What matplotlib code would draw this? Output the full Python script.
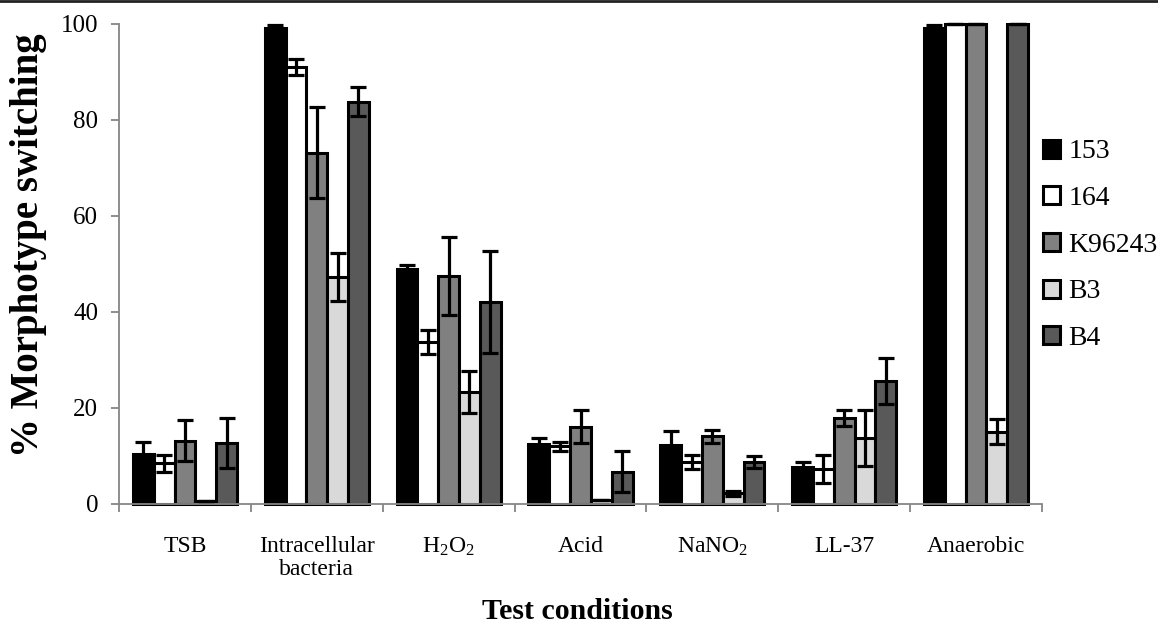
import matplotlib.pyplot as plt, numpy as np
from matplotlib.lines import Line2D

plt.rcParams['font.family'] = ['Liberation Serif', 'DejaVu Serif']
plt.rcParams['mathtext.fontset'] = 'custom'
plt.rcParams['mathtext.rm'] = 'Liberation Serif'
plt.rcParams['mathtext.it'] = 'Liberation Serif:italic'

categories = ['TSB', 'Intracellular\nbacteria', r'H$_\mathrm{2}$O$_\mathrm{2}$', 'Acid',
              r'NaNO$_\mathrm{2}$', 'LL-37', 'Anaerobic']
strains = ['153', '164', 'K96243', 'B3', 'B4']

v153 = [10.4, 99.2, 48.9, 12.5, 12.2, 7.8, 99.2]
e153 = [2.5, 0.6, 0.9, 1.3, 3.0, 1.0, 0.6]
v164 = [8.5, 91.0, 33.7, 12.0, 8.7, 7.3, 100]
e164 = [1.8, 1.7, 2.5, 0.9, 1.4, 3.0, 0]
vK96243 = [13.2, 73.2, 47.5, 16.1, 14.1, 17.9, 100]
eK96243 = [4.2, 9.5, 8.2, 3.5, 1.3, 1.7, 0]
vB3 = [0.7, 47.3, 23.3, 0.9, 2.2, 13.8, 15.0]
eB3 = [0, 5.0, 4.4, 0, 0.5, 5.8, 2.6]
vB4 = [12.7, 83.8, 42.1, 6.7, 8.7, 25.7, 100]
eB4 = [5.3, 3.0, 10.6, 4.3, 1.2, 4.8, 0]

values = [v153, v164, vK96243, vB3, vB4]
errors = [e153, e164, eK96243, eB3, eB4]
colors = ['#000000', '#ffffff', '#808080', '#d9d9d9', '#595959']

fig = plt.figure(figsize=(11.58, 6.31), dpi=100)
ax = fig.add_axes([0.1028, 0.2013, 0.7970, 0.7607])

x = np.arange(len(categories))
w = 0.158
for i, (vals, errs, c) in enumerate(zip(values, errors, colors)):
    pos = x + (i - 2) * w
    ax.bar(pos, vals, w, color=c, edgecolor='black', linewidth=2.2,
           label=strains[i], clip_on=False, zorder=2)
    ax.errorbar(pos, vals, yerr=errs, fmt='none', ecolor='black',
                elinewidth=2.3, capsize=6, capthick=2.3, clip_on=False, zorder=3)

ax.set_xlim(-0.5, len(categories) - 0.5)
ax.set_ylim(0, 100)
ax.set_yticks(range(0, 101, 20))
ax.set_xticks(x)
ax.set_xticklabels(categories, fontsize=17, linespacing=1.1)
ax.set_xticks(np.arange(-0.5, len(categories), 1), minor=True)
ax.tick_params(axis='x', which='major', length=0, pad=23)
ax.tick_params(axis='x', which='minor', length=6, color='#868686', width=1.3)
ax.tick_params(axis='y', length=6, color='#868686', width=1.3, labelsize=18, pad=9)

for s in ['top', 'right']:
    ax.spines[s].set_visible(False)
for s in ['left', 'bottom']:
    ax.spines[s].set_color('#868686')
    ax.spines[s].set_linewidth(1.3)

ax.set_ylabel('% Morphotype switching', fontsize=28, fontweight='bold')
ax.yaxis.set_label_coords(-0.078, 0.54)
ax.set_xlabel('Test conditions', fontsize=21.5, fontweight='bold')
ax.xaxis.set_label_coords(0.497, -0.195)

ax.legend(loc='center left', bbox_to_anchor=(1.001, 0.539), frameon=False,
          fontsize=20, handlelength=0.62, handleheight=0.62, handletextpad=0.3,
          labelspacing=0.78, borderaxespad=0.0, borderpad=0.0)

fig.add_artist(Line2D([0, 1], [0.999, 0.999], color='#222222', linewidth=2,
                      transform=fig.transFigure))

fig.savefig('out.png', dpi=100)
